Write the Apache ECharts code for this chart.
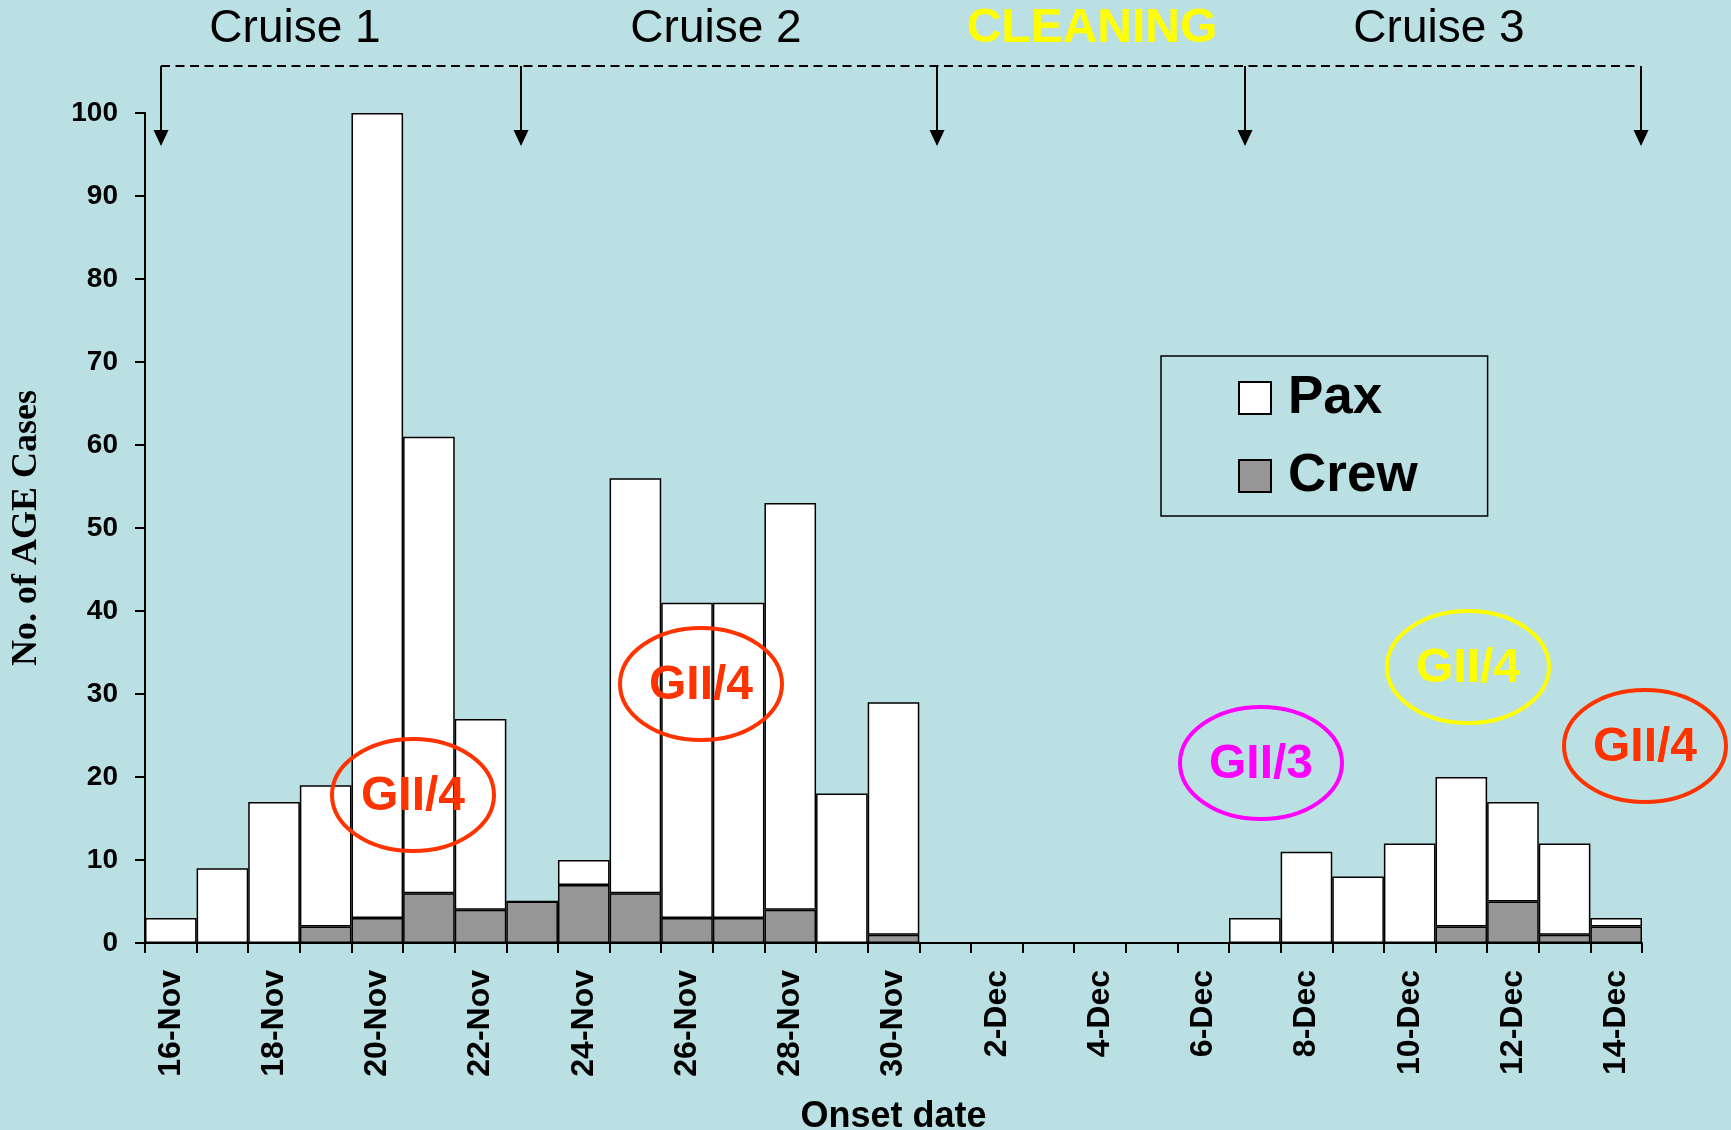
<!DOCTYPE html>
<html>
<head>
<meta charset="utf-8">
<script src="https://cdn.jsdelivr.net/npm/echarts@6/dist/echarts.min.js"></script>
<style>
html,body{margin:0;padding:0;background:#BBE0E3;}
#c{width:1731px;height:1130px;}
</style>
</head>
<body>
<div id="c"></div>
<script>
const dates = ['16-Nov','17-Nov','18-Nov','19-Nov','20-Nov','21-Nov','22-Nov','23-Nov','24-Nov','25-Nov','26-Nov','27-Nov','28-Nov','29-Nov','30-Nov',
  '1-Dec','2-Dec','3-Dec','4-Dec','5-Dec','6-Dec','7-Dec','8-Dec','9-Dec','10-Dec','11-Dec','12-Dec','13-Dec','14-Dec'];
const pax  = [3,9,17,17,97,55,23,0,3,50,38,38,49,18,28, 0,0,0,0,0,0, 3,11,8,12,18,12,11,1];
const crew = [0,0,0,2,3,6,4,5,7,6,3,3,4,0,1, 0,0,0,0,0,0, 0,0,0,0,2,5,1,2];
const seriesNames = ['Pax','Crew'];
const cruiseLabels = ['Cruise 1','Cruise 2','CLEANING','Cruise 3'];
const genotypeLabels = ['GII/4','GII/4','GII/3','GII/4','GII/4'];

const SANS = '"Liberation Sans", Arial, sans-serif';
const SERIF = '"Liberation Serif", "Times New Roman", serif';

const chart = echarts.init(document.getElementById('c'), null, {renderer:'canvas'});

// annotation graphics (decorations, pixel placed)
const g = [];
const hdr = [
  {t:cruiseLabels[0], x:295, c:'#000', w:'normal'},
  {t:cruiseLabels[1], x:716, c:'#000', w:'normal'},
  {t:cruiseLabels[2], x:1092, c:'#FFFF00', w:'bold'},
  {t:cruiseLabels[3], x:1439, c:'#000', w:'normal'}
];
hdr.forEach(h => g.push({type:'text', z:100, style:{text:h.t, x:h.x, y:29, align:'center', verticalAlign:'middle',
  fontFamily:SANS, fontSize:h.w==='bold'?48:46, fontWeight:h.w, fill:h.c}}));
g.push({type:'line', z:100, shape:{x1:161, y1:66, x2:1637, y2:66}, style:{stroke:'#000', lineWidth:2, lineDash:[9,5.5]}});
[161, 521, 937, 1245, 1641].forEach(x => {
  g.push({type:'line', z:100, shape:{x1:x, y1:66, x2:x, y2:133}, style:{stroke:'#000', lineWidth:2}});
  g.push({type:'polygon', z:100, shape:{points:[[x-7.5,130],[x+7.5,130],[x,146]]}, style:{fill:'#000'}});
});
const ell = [
  {x:413, y:795, c:'#FF3300'},
  {x:701, y:684, c:'#FF3300'},
  {x:1261, y:763, c:'#FF00FF'},
  {x:1468, y:667, c:'#FFFF00'},
  {x:1645, y:746, c:'#FF3300'}
];
ell.forEach((e,i) => {
  g.push({type:'ellipse', z:100, shape:{cx:e.x, cy:e.y, rx:81, ry:56}, style:{fill:'none', stroke:e.c, lineWidth:4}});
  g.push({type:'text', z:101, style:{text:genotypeLabels[i], x:e.x, y:e.y+2, align:'center', verticalAlign:'middle',
    fontFamily:SANS, fontSize:48, fontWeight:'bold', fill:e.c}});
});

const barStyle = (col) => ({color:col, borderColor:'#000', borderWidth:1.5});

chart.setOption({
  backgroundColor:'#BBE0E3',
  animation:false,
  grid:{left:145, right:89, top:113, bottom:187, containLabel:false, outerBoundsMode:'none'},
  legend:{
    data:seriesNames,
    orient:'vertical',
    left:1161, top:356,
    icon:'rect',
    itemWidth:32, itemHeight:32,
    itemGap:14,
    padding:[10,70,8,77],
    borderColor:'#000', borderWidth:1.5,
    textStyle:{fontFamily:SANS, fontSize:53, fontWeight:'bold', color:'#000', lineHeight:50, padding:[14,0,0,12]},
    selectedMode:false
  },
  xAxis:{
    type:'category',
    data:dates,
    name:'Onset date',
    nameLocation:'middle',
    nameGap:156,
    nameTextStyle:{fontFamily:SANS, fontSize:36, fontWeight:'bold', color:'#000'},
    axisLine:{show:true, lineStyle:{color:'#000', width:2}},
    axisTick:{show:true, interval:0, length:10, lineStyle:{color:'#000', width:2}},
    axisLabel:{interval:1, rotate:90, margin:27, fontFamily:SANS, fontSize:32, fontWeight:'bold', color:'#000'},
    splitLine:{show:false}
  },
  yAxis:{
    type:'value',
    min:0, max:100, interval:10,
    name:'No. of AGE Cases',
    nameLocation:'middle',
    nameGap:100,
    nameTextStyle:{fontFamily:SERIF, fontSize:36, fontWeight:'bold', color:'#000'},
    axisLine:{show:true, lineStyle:{color:'#000', width:2}},
    axisTick:{show:true, length:10, lineStyle:{color:'#000', width:2}},
    axisLabel:{margin:27, fontFamily:SANS, fontSize:28, fontWeight:'bold', color:'#000'},
    splitLine:{show:false}
  },
  series:[
    {name:'Crew', type:'bar', stack:'all', data:crew, barCategoryGap:'0%', itemStyle:barStyle('#969696')},
    {name:'Pax', type:'bar', stack:'all', data:pax, barCategoryGap:'0%', itemStyle:barStyle('#FFFFFF')}
  ],
  graphic:g
});
</script>
</body>
</html>
